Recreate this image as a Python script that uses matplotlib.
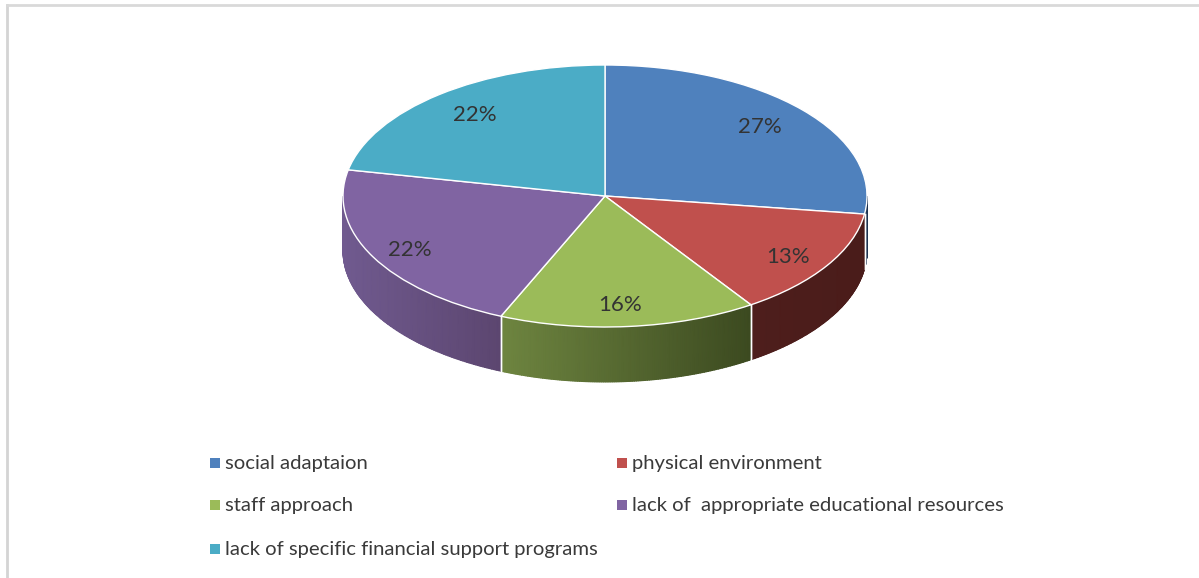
#!/usr/bin/env python3

import numpy as np
import matplotlib.pyplot as plt
from matplotlib.colors import LinearSegmentedColormap

categories = ["social adaptaion", "physical environment", "staff approach",
              "lack of  appropriate educational resources",
              "lack of specific financial support programs"]
values = [27.2, 13.4, 15.9, 21.7, 21.8]
colors = ["#4F81BD", "#C0504D", "#9BBB59", "#8064A2", "#4BACC6"]
# side wall colours, left end and right end of each slice
wall_left = ["#2A4466", "#4E1E1C", "#6E8540", "#705A8F", "#2F6F80"]
wall_right = ["#1F3350", "#4A1C1A", "#3C4A20", "#5C4670", "#2F6F80"]
# small pixel shifts of the percent labels (right, down)
label_shift = [(-5, 1), (3, 5), (-4, 3), (-7, 5), (4, 1)]

W, H = 1199, 578
cx, cy, rx, ry = 605, 196, 262, 131
depth = 55 / ry

plt.rcParams['font.family'] = ['Lato', 'DejaVu Sans']

def draw_wall(ax, start, stop, left, right):
    # only the front half of the rim can be seen
    start = max(start, 90)
    stop = min(stop, 270)
    if stop <= start:
        return
    a = np.radians(np.linspace(start, stop, 120))
    xs = np.sin(a)
    ys = np.cos(a)
    cmap = LinearSegmentedColormap.from_list("wall", [left, right])
    X = np.vstack([xs, xs])
    Y = np.vstack([ys, ys - depth])
    C = np.vstack([xs, xs])
    ax.pcolormesh(X, Y, C, cmap=cmap, shading="gouraud", zorder=1)
    for e in (start, stop):
        if 90 < e < 270:
            ax.plot([np.sin(np.radians(e))] * 2,
                    [np.cos(np.radians(e)), np.cos(np.radians(e)) - depth],
                    color="white", lw=1, zorder=2)

fig = plt.figure(figsize=(W / 100, H / 100), dpi=100)

bg = fig.add_axes([0, 0, 1, 1])
bg.set_xlim(0, W)
bg.set_ylim(H, 0)
bg.axis("off")
bg.plot([7, 7], [5, H], color="#D4D4D4", lw=2)
bg.plot([7, W], [5, 5], color="#D9D9D9", lw=2)

# pie axes: stretched so that the circle comes out as an ellipse
x0, x1, y_top, y_bot = -1.1, 1.1, 1.1, -1.6
ax = fig.add_axes([(cx + x0 * rx) / W, 1 - (cy - y_bot * ry) / H,
                   (x1 - x0) * rx / W, (y_top - y_bot) * ry / H])
wedges, texts, pcts = ax.pie(values, colors=colors, startangle=90, counterclock=False,
                             autopct="%.0f%%", pctdistance=0.81,
                             wedgeprops={"edgecolor": "white", "linewidth": 1, "zorder": 3},
                             textprops={"fontsize": 16, "color": "#333333"})
for t, (dx, dy) in zip(pcts, label_shift):
    px, py = t.get_position()
    t.set_position((px + dx / rx, py - dy / ry))
    t.set_zorder(5)
ax.set_aspect("auto")
ax.set_xlim(x0, x1)
ax.set_ylim(y_bot, y_top)

edges = np.concatenate([[0], np.cumsum(values)]) * 3.6
for i in range(len(values)):
    draw_wall(ax, edges[i], edges[i + 1], wall_left[i], wall_right[i])

leg_x = [210, 617, 210, 617, 210]
leg_y = [463, 463, 505, 505, 549]
for name, c, lx, ly in zip(categories, colors, leg_x, leg_y):
    bg.plot(lx + 4.5, ly, marker="s", ms=6.5, color=c, mew=0)
    bg.text(lx + 15, ly, name, fontsize=14.6, color="#3A3A3A", va="center", ha="left")

fig.savefig("out.png", dpi=100)
